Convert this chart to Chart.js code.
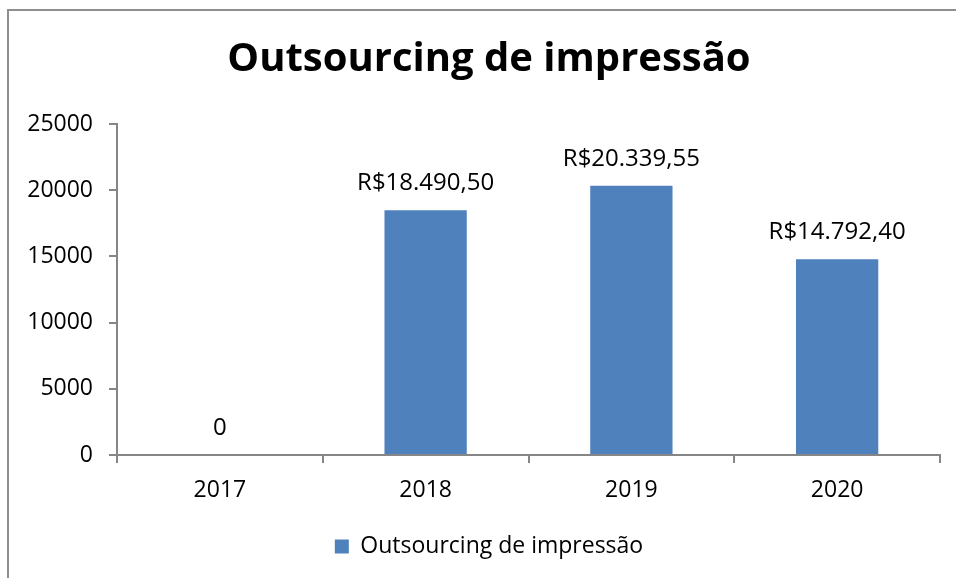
<!DOCTYPE html>
<html>
<head>
<meta charset="utf-8">
<script src="https://cdn.jsdelivr.net/npm/chart.js@4"></script>
<style>
  html, body { margin: 0; padding: 0; background: #fff; overflow: hidden; }
  #box {
    position: absolute; left: 7px; top: 9px;
    width: 960px; height: 580px;
    border: 2px solid #8e8e8e;
  }
  canvas { display: block; }
</style>
</head>
<body>
<div id="box"><canvas id="chart" width="960" height="580"></canvas></div>
<script>
const titleText = 'Outsourcing de impressão';
const seriesName = 'Outsourcing de impressão';
const years = ['2017', '2018', '2019', '2020'];
const values = [0, 18490.50, 20339.55, 14792.40];
const valueLabels = ['0', 'R$18.490,50', 'R$20.339,55', 'R$14.792,40'];

const FONT = "'Open Sans', 'DejaVu Sans', sans-serif";
const axisColor = '#868686';

// draws the value above each bar
const barLabels = {
    id: 'barLabels',
    afterDatasetsDraw(chart) {
        const ctx = chart.ctx;
        const meta = chart.getDatasetMeta(0);
        ctx.save();
        ctx.font = '24px ' + FONT;
        ctx.fillStyle = '#000';
        ctx.textAlign = 'center';
        ctx.textBaseline = 'middle';
        meta.data.forEach((bar, i) => {
            ctx.fillText(valueLabels[i], bar.x, bar.y - 27);
        });
        ctx.restore();
    }
};

new Chart(document.getElementById('chart'), {
    type: 'bar',
    data: {
        labels: years,
        datasets: [{
            label: seriesName,
            data: values,
            backgroundColor: '#4F81BD',
            barPercentage: 0.4,
            categoryPercentage: 1.0
        }]
    },
    plugins: [barLabels],
    options: {
        responsive: false,
        animation: false,
        layout: { padding: { left: 0, right: 0, top: 0, bottom: 23 } },
        scales: {
            x: {
                offset: true,
                grid: { offset: true, drawOnChartArea: false, tickLength: 8, color: axisColor, lineWidth: 2 },
                border: { display: true, color: axisColor, width: 2 },
                ticks: { color: '#000', font: { family: FONT, size: 23 }, padding: 14, maxRotation: 0 },
                afterFit(scale) { scale.height = 70; }
            },
            y: {
                min: 0,
                max: 25000,
                ticks: {
                    stepSize: 5000,
                    color: '#000',
                    font: { family: FONT, size: 23 },
                    padding: 16,
                    callback: v => String(v)
                },
                grid: { drawOnChartArea: false, tickLength: 8, color: axisColor, lineWidth: 2 },
                border: { display: true, color: axisColor, width: 2 },
                afterFit(scale) { scale.width = 108; }
            },
            // empty right-hand scale, only keeps the blank margin on the right
            spacer: {
                position: 'right',
                grid: { display: false },
                border: { display: false },
                ticks: { display: false },
                afterFit(scale) { scale.width = 29; }
            }
        },
        plugins: {
            title: {
                display: true,
                text: titleText,
                color: '#000',
                font: { family: FONT, size: 40, weight: 'bold' },
                padding: { top: 25, bottom: 40 }
            },
            legend: {
                position: 'bottom',
                labels: {
                    color: '#000',
                    font: { family: FONT, size: 23 },
                    boxWidth: 14,
                    boxHeight: 14,
                    padding: 10
                }
            },
            tooltip: { enabled: false }
        }
    }
});
</script>
</body>
</html>
